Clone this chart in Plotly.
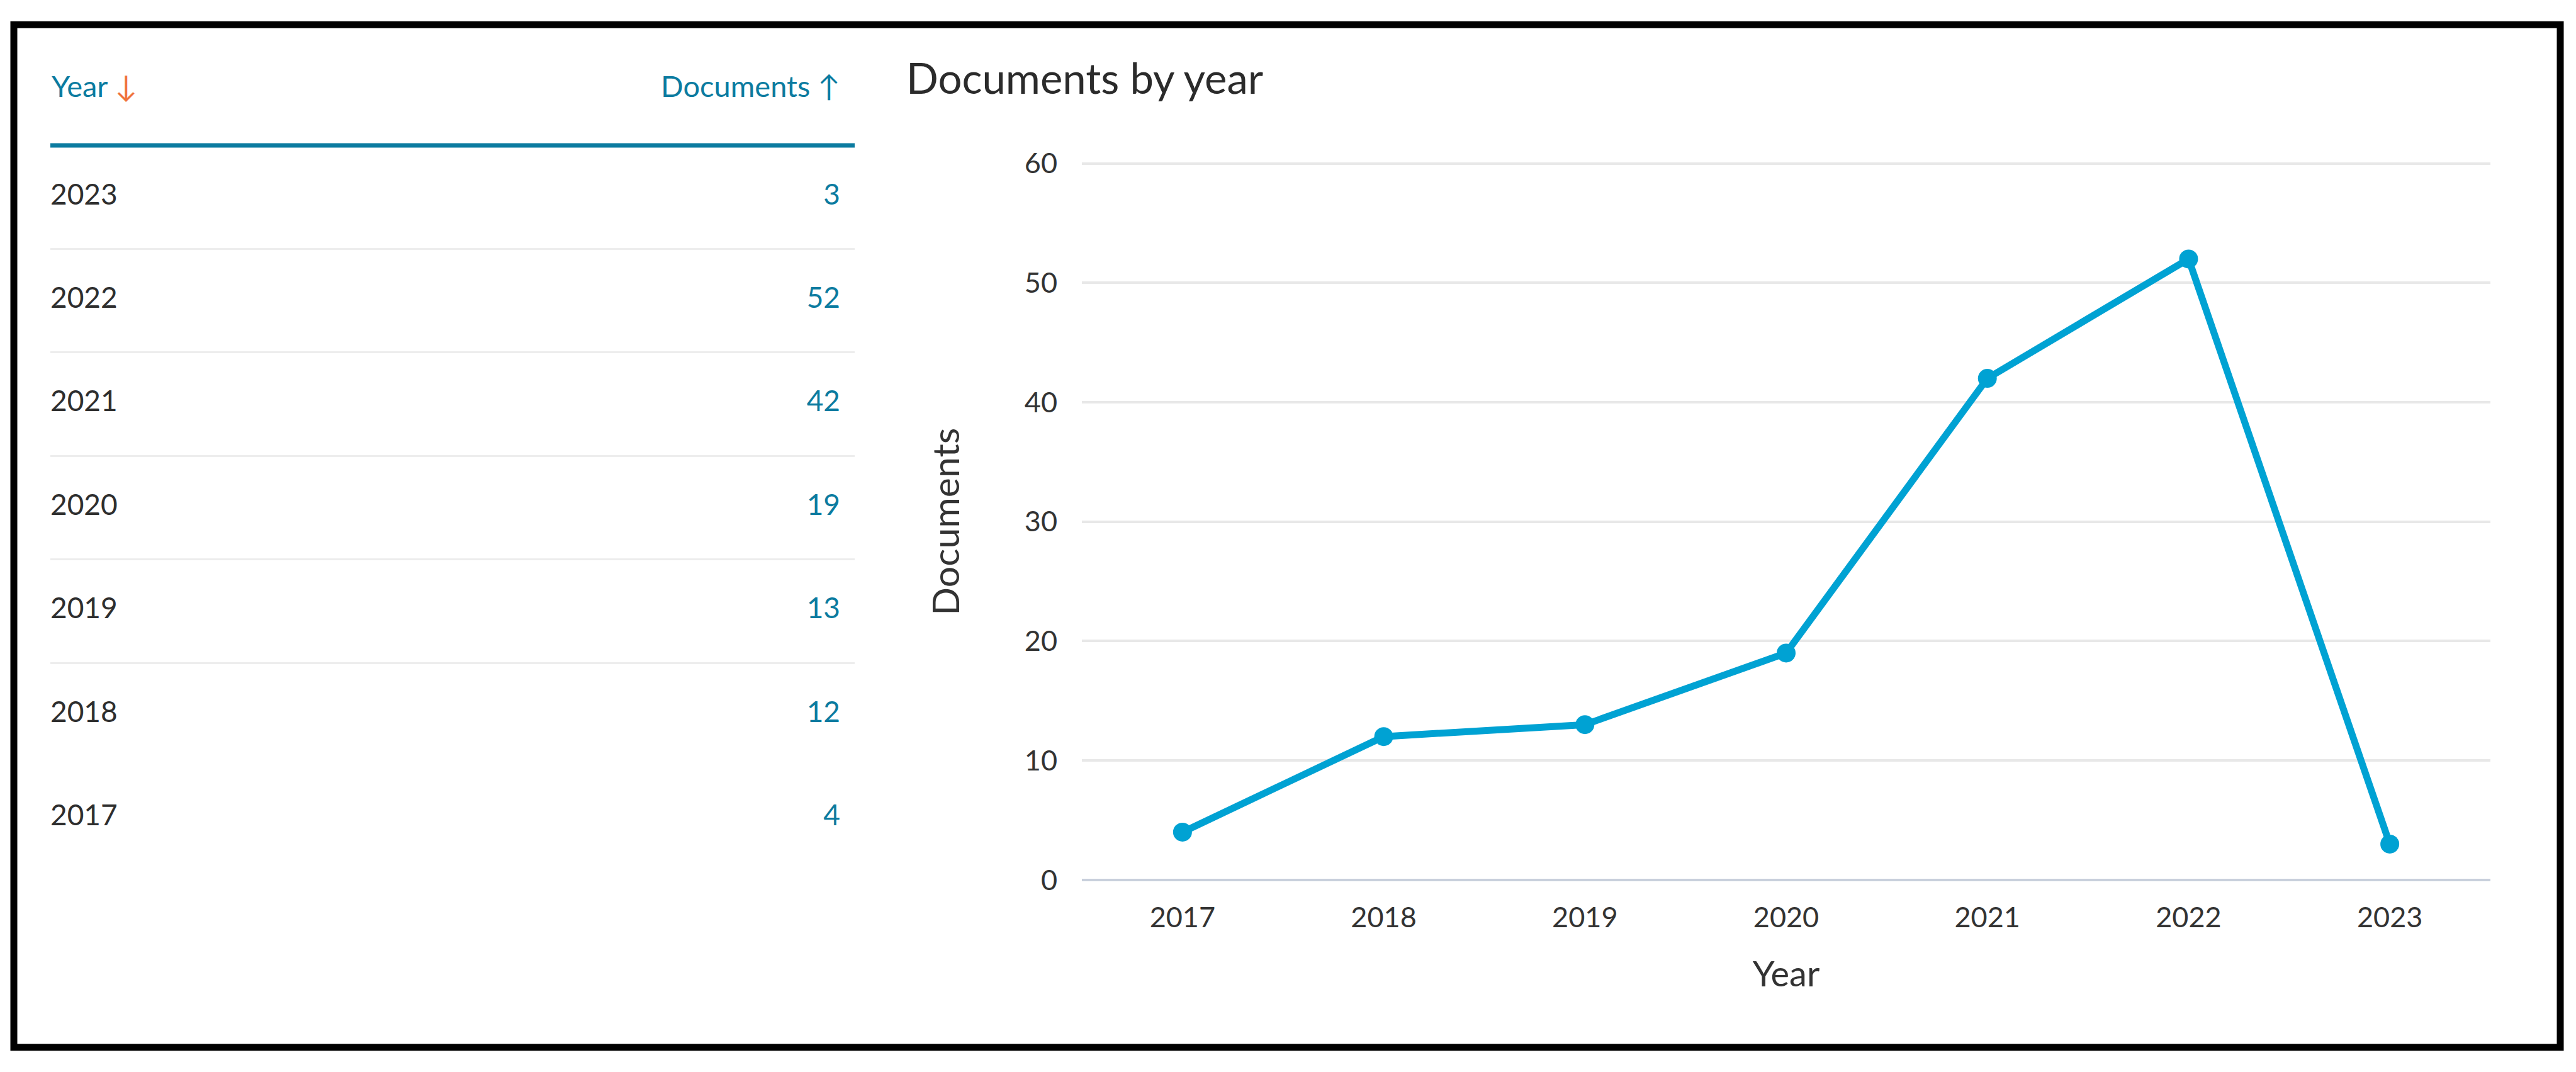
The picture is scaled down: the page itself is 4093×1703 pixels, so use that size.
import plotly.graph_objects as go

# ---- data ----
years = ["2017", "2018", "2019", "2020", "2021", "2022", "2023"]
documents = [4, 12, 13, 19, 42, 52, 3]
y_ticks = [0, 10, 20, 30, 40, 50, 60]
table_years = years[::-1]
table_docs = documents[::-1]
header_year = "Year"
header_docs = "Documents"
title_text = "Documents by year"
x_title = "Year"
y_title = "Documents"

# ---- geometry helpers (page pixels -> paper); page body has an 8px margin ----
PAGE_W, PAGE_H = 4093, 1703
OFF = 8
W, H = PAGE_W - 2 * OFF, PAGE_H - 2 * OFF


def px(x):
    return (x - OFF) / W


def py(y):
    return 1 - (y - OFF) / H


FONT = "Lato, 'Open Sans', sans-serif"
TEAL = "#0b7ba0"
LINE = "#00a2d3"
DARK = "#2e2e2e"
ORANGE = "#f0733c"

fig = go.Figure()

# line chart
fig.add_trace(go.Scatter(
    x=years, y=documents, mode="lines+markers",
    line=dict(color=LINE, width=11),
    marker=dict(color=LINE, size=30),
    xaxis="x", yaxis="y", hoverinfo="skip", showlegend=False, cliponaxis=False,
))

# table
rows = list(range(len(table_years)))
fig.add_trace(go.Scatter(
    x=[0] * len(rows), y=rows, mode="text", text=table_years,
    textposition="middle right",
    textfont=dict(family=FONT, size=46, color=DARK),
    xaxis="x2", yaxis="y2", hoverinfo="skip", showlegend=False, cliponaxis=False,
))
fig.add_trace(go.Scatter(
    x=[0.982] * len(rows), y=rows, mode="text", text=[str(v) for v in table_docs],
    textposition="middle left",
    textfont=dict(family=FONT, size=46, color=TEAL),
    xaxis="x2", yaxis="y2", hoverinfo="skip", showlegend=False, cliponaxis=False,
))

n = len(rows)
fig.update_layout(
    width=W, height=H, autosize=False,
    margin=dict(l=0, r=0, t=0, b=0, pad=0),
    paper_bgcolor="white", plot_bgcolor="white",
    hovermode=False,
    font=dict(family=FONT, color=DARK),
    title=dict(
        text=title_text, x=px(1440), xref="paper", xanchor="left",
        y=py(118), yref="paper", yanchor="middle",
        font=dict(family=FONT, size=67, color="#2b2b2b"),
    ),
    xaxis=dict(
        domain=[px(1719), px(3957)], type="category", range=[-0.5, 6.5],
        showgrid=False, showline=False, zeroline=False, ticks="",
        tickfont=dict(family=FONT, size=45, color="#333333"),
        ticklabelstandoff=10,
        title=dict(text=x_title, font=dict(family=FONT, size=56, color="#333333"), standoff=46),
        anchor="y", fixedrange=True,
    ),
    yaxis=dict(
        domain=[py(1421.15), py(233.85)], range=[-1, 61],
        tickvals=y_ticks, ticktext=[str(v) for v in y_ticks],
        showgrid=True, gridcolor="#e8e8e8", gridwidth=4,
        zeroline=True, zerolinecolor="#c9d0dc", zerolinewidth=4,
        showline=False, ticks="",
        tickfont=dict(family=FONT, size=45, color="#333333"),
        ticklabelstandoff=38,
        title=dict(text=y_title, font=dict(family=FONT, size=59, color="#333333"), standoff=84),
        anchor="x", fixedrange=True,
    ),
    xaxis2=dict(
        domain=[px(80), px(1358)], range=[0, 1],
        showgrid=False, zeroline=False, showline=False, showticklabels=False, ticks="",
        anchor="y2", fixedrange=True,
    ),
    yaxis2=dict(
        domain=[py(307 + 166 * (n - 0.5)), py(307 - 166 * 0.5)],
        range=[n - 0.5, -0.5],
        tickvals=[r + 0.5 for r in rows[:5]],
        showgrid=True, gridcolor="#ededed", gridwidth=3,
        zeroline=False, showline=False, showticklabels=False, ticks="",
        anchor="x2", fixedrange=True,
    ),
    annotations=[
        dict(text=header_year + " <span style='color:%s'>↓</span>" % ORANGE,
             x=px(80), y=py(128), xref="paper", yref="paper",
             xanchor="left", yanchor="middle", showarrow=False,
             font=dict(family=FONT, size=47, color=TEAL)),
        dict(text=header_docs + " ↑",
             x=px(1337), y=py(128), xref="paper", yref="paper",
             xanchor="right", yanchor="middle", showarrow=False,
             font=dict(family=FONT, size=47, color=TEAL)),
    ],
    shapes=[
        dict(type="line", xref="paper", yref="paper",
             x0=px(80), x1=px(1358), y0=py(224), y1=py(224),
             line=dict(color=TEAL, width=7)),
        dict(type="rect", xref="paper", yref="paper",
             x0=px(22), x1=px(4068), y0=py(1670.5), y1=py(30.5),
             line=dict(color="black", width=11), fillcolor="rgba(0,0,0,0)"),
    ],
)

fig.write_html("out.html", config={"displayModeBar": False, "staticPlot": True})
